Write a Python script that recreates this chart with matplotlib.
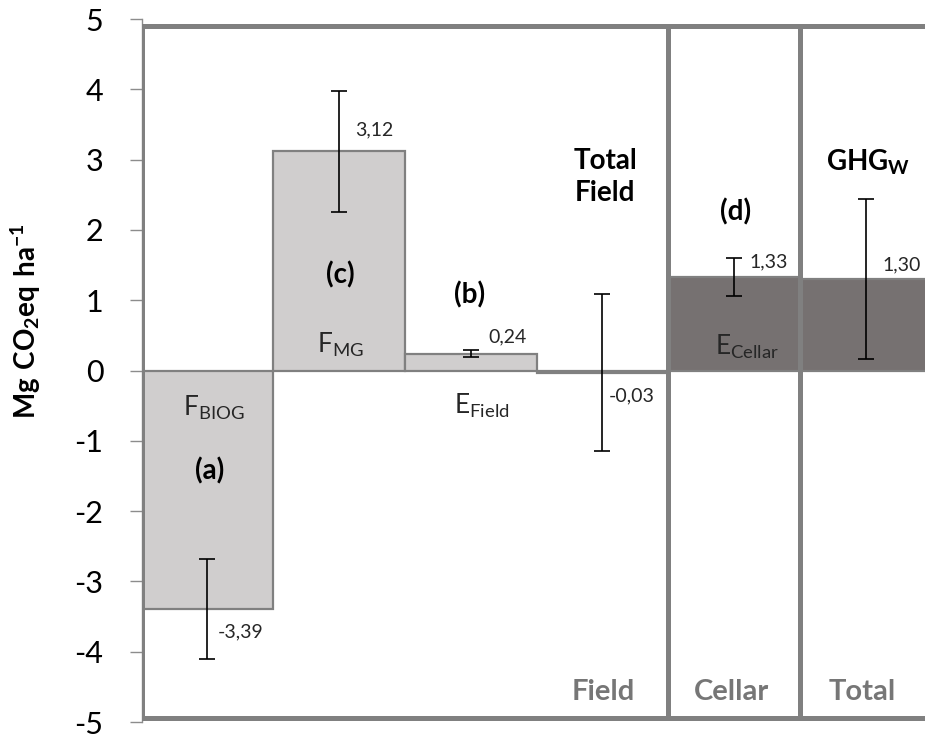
import numpy as np
import matplotlib
matplotlib.use('Agg')
import matplotlib.pyplot as plt
from matplotlib.patches import Rectangle

plt.rcParams['font.family'] = ['Lato', 'DejaVu Sans']
plt.rcParams['mathtext.fontset'] = 'custom'
plt.rcParams['mathtext.rm'] = 'Lato'
plt.rcParams['mathtext.bf'] = 'Lato:bold'
plt.rcParams['axes.unicode_minus'] = False

# values (Mg CO2eq ha-1)
names = [r'$\mathregular{F_{BIOG}}$', r'$\mathregular{F_{MG}}$', r'$\mathregular{E_{Field}}$',
         '', r'$\mathregular{E_{Cellar}}$', '']
values = [-3.39, 3.12, 0.24, -0.03, 1.33, 1.30]
errors = [0.71, 0.86, 0.05, 1.12, 0.27, 1.14]
value_text = ['-3,39', '3,12', '0,24', '-0,03', '1,33', '1,30']
letters = ['(a)', '(c)', '(b)', '', '(d)', '']
totals = ['', '', '', 'Total\nField', '', r'$\mathbf{GHG_W}$']
sections = ['Field', 'Cellar', 'Total']
section_edges = [0, 4, 5, 6.2]
yticks = [5, 4, 3, 2, 1, 0, -1, -2, -3, -4, -5]

light = '#d0cece'
dark = '#767171'
frame = '#808080'
colors = [light, light, light, dark, dark, dark]

fig = plt.figure(figsize=(9.25, 7.4), dpi=100)
ax = fig.add_axes([141.6 / 925, 0.0243, 1 - 141.6 / 925, 0.950])

x = np.arange(len(values)) + 0.5
ax.bar(x, values, width=1.0, color=colors, edgecolor=frame, linewidth=1.6, zorder=2)
ax.errorbar(x, values, yerr=errors, fmt='none', ecolor='black', elinewidth=1.2,
            capsize=6, capthick=1.2, zorder=4)

# section frames and their labels
section_label_x = [3.51, 4.48, 5.47]
for i, s in enumerate(sections):
    x0, x1 = section_edges[i], section_edges[i + 1]
    ax.add_patch(Rectangle((x0, -4.94), x1 - x0, 4.90 + 4.94, fill=False,
                           edgecolor=frame, linewidth=3.6, zorder=3))
    ax.text(section_label_x[i], -4.57, s, ha='center', va='center',
            fontsize=21, fontweight='bold', color='#767676', zorder=5)

# inside labels
name_pos = [(0.55, -0.53), (1.51, 0.36), (2.58, -0.50), None, (4.60, 0.33), None]
letter_pos = [(0.52, -1.43), (1.51, 1.36), (2.49, 1.07), None, (4.51, 2.25), None]
total_pos = [None, None, None, (3.52, 2.75), None, (5.52, 2.96)]
value_pos = [(0.58, -3.72), (1.62, 3.42), (2.63, 0.48), (3.55, -0.36), (4.62, 1.54), (5.63, 1.50)]

for i in range(len(values)):
    if names[i]:
        ax.text(*name_pos[i], names[i], ha='center', va='center', fontsize=19, color='#262626', zorder=5)
    if letters[i]:
        ax.text(*letter_pos[i], letters[i], ha='center', va='center', fontsize=20,
                fontweight='bold', color='black', zorder=5)
    if totals[i]:
        ax.text(*total_pos[i], totals[i], ha='center', va='center', fontsize=20,
                fontweight='bold', color='black', linespacing=1.3, zorder=5)
    ax.text(*value_pos[i], value_text[i], ha='left', va='center', fontsize=14, color='#262626', zorder=5)

ax.set_xlim(0, 5.95)
ax.set_ylim(-5, 5)
ax.set_yticks(yticks)
ax.set_yticklabels([str(t) for t in yticks], fontsize=22)
ax.tick_params(axis='y', direction='out', length=8.6, width=1, color='#8c8c8c', pad=19)
ax.set_xticks([])
for side in ['top', 'right', 'bottom']:
    ax.spines[side].set_visible(False)
ax.spines['left'].set_color('#8c8c8c')
ax.spines['left'].set_linewidth(1)

fig.text(26 / 925, 1 - 321 / 740, r'$\mathbf{Mg\ CO_2eq\ ha^{-1}}$', rotation=90,
         ha='center', va='center', fontsize=20)

fig.savefig('out.png', dpi=100)
